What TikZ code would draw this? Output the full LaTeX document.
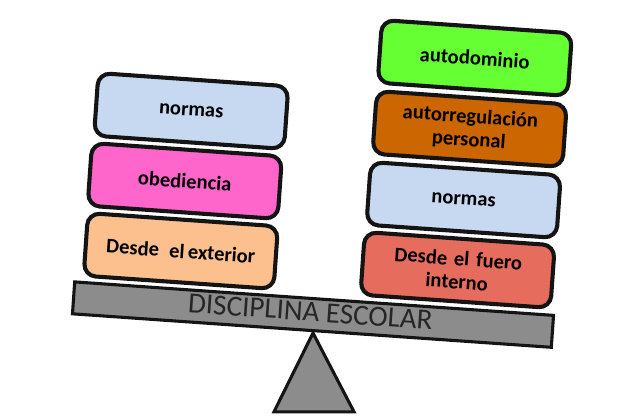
\documentclass[tikz,border=0pt]{standalone}
\usepackage{fontspec}
\setmainfont{Carlito}
\definecolor{boxblue}{RGB}{198, 217, 241}
\definecolor{boxpink}{RGB}{255, 102, 204}
\definecolor{boxpeach}{RGB}{252, 192, 142}
\definecolor{boxgreen}{RGB}{102, 255, 51}
\definecolor{boxorange}{RGB}{204, 102, 0}
\definecolor{boxred}{RGB}{230, 108, 94}
\definecolor{beamgray}{RGB}{140, 140, 140}
\definecolor{edgeblack}{RGB}{20, 20, 20}
\tikzset{
  weight/.style={draw=edgeblack, line width=2.9pt, rounded corners=8.5pt, minimum width=4.76cm, minimum height=1.57cm, text width=4.5cm, align=center, inner sep=0pt, font=\fontsize{14.6}{16.5}\selectfont\bfseries, rotate=-4},
  beam/.style={draw=edgeblack, fill=beamgray, line width=2.2pt, minimum width=12cm, minimum height=0.8cm, inner sep=0pt, rotate=-4}
}
\begin{document}
\begin{tikzpicture}
  \useasboundingbox (0, 0) rectangle (16, 10.425);

  % The support
  \coordinate (apex) at (7.825, 2.1);
  \coordinate (baseleft) at (6.85, 0.13);
  \coordinate (baseright) at (8.85, 0.13);
  \draw[draw=edgeblack, fill=beamgray, line width=2.2pt] (apex) -- (baseright) -- (baseleft) -- cycle;

  % The beam
  \node[beam] (barra) at (7.825, 2.56) {};
  \node[font=\fontsize{20.7}{22}\selectfont, rotate=-4, inner sep=0pt, text=black!85] (rotulo) at (7.76, 2.63) {DISCIPLINA ESCOLAR};

  % Left stack
  \node[weight, fill=boxpeach] (exterior) at (4.52, 4.15) {Desde\ \,el\,exterior};
  \node[weight, fill=boxpink] (obediencia) at (4.62, 5.90) {obediencia};
  \node[weight, fill=boxblue] (normasizq) at (4.78, 7.65) {normas};

  % Right stack
  \node[weight, fill=boxred] (fuero) at (11.44, 3.675) {Desde el fuero\\interno};
  \node[weight, fill=boxblue] (normasder) at (11.59, 5.425) {normas};
  \node[weight, fill=boxorange] (autorregulacion) at (11.74, 7.2) {autorregulación\\personal};
  \node[weight, fill=boxgreen] (autodominio) at (11.87, 8.975) {autodominio};
\end{tikzpicture}
\end{document}
